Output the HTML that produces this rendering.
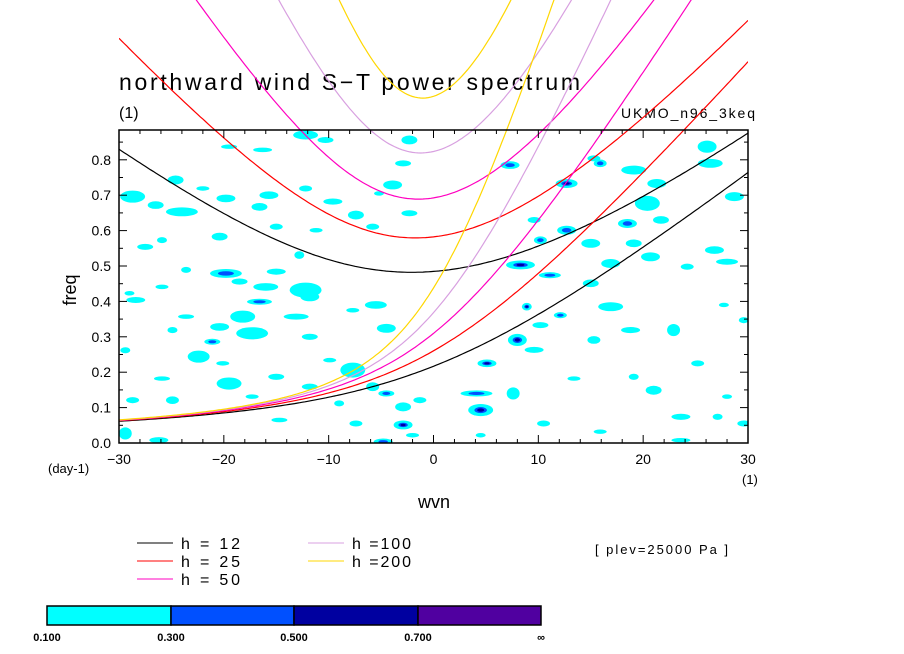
<!DOCTYPE html>
<html><head><meta charset="utf-8"><style>
body{margin:0;background:#fff;width:904px;height:654px;overflow:hidden}
svg{display:block;font-family:"Liberation Sans",sans-serif}
</style></head><body>
<svg id="chart" width="904" height="654" viewBox="0 0 904 654" xmlns="http://www.w3.org/2000/svg">
<defs><clipPath id="plotclip"><rect x="119" y="130" width="629" height="313"/></clipPath>
<clipPath id="xclip"><rect x="119" y="0" width="629" height="443"/></clipPath></defs>
<text x="119" y="90" font-size="23" textLength="461" lengthAdjust="spacing">northward wind S−T power spectrum</text>
<text x="119" y="118" font-size="16">(1)</text>
<text x="621" y="118" font-size="14" textLength="134" lengthAdjust="spacing">UKMO_n96_3keq</text>
<g id="blobs" clip-path="url(#plotclip)"></g>
<g id="curves" clip-path="url(#xclip)"></g>
<g id="axes"></g>
<text transform="translate(76,290) rotate(-90)" font-size="18" text-anchor="middle">freq</text>
<text x="434" y="508" font-size="18" text-anchor="middle">wvn</text>
<text x="48" y="473" font-size="13">(day-1)</text>
<text x="742" y="484" font-size="13">(1)</text>
<g id="legend"></g>
<text x="595" y="554" font-size="13" textLength="133" lengthAdjust="spacing">[ plev=25000 Pa ]</text>
<g id="cbar"></g>
</svg>
<script>
const hValues=[12,25,50,100,200];
const hColors=["#000000","#ff0000","#ff00c0","#d8a0e0","#ffd700"];
const xTicks=[-30,-20,-10,0,10,20,30];
const yTicks=[0,0.1,0.2,0.3,0.4,0.5,0.6,0.7,0.8];
const cbLevels=["0.100","0.300","0.500","0.700","∞"];
const cbColors=["#00ffff","#0050ff","#0000a0","#5000a0"];
// contour blobs: wavenumber, frequency, extent in k, in f, level
const blobK=[-28.7,-24.6,-24.0,-26.5,-12.2,-10.3,-16.3,-19.5,-15.7,-19.8,-12.2,-9.6,-7.4,-2.3,-2.9,-3.9,-5.2,-2.3,-22.0,-16.6,-20.4,-25.9,-27.5,-15.0,-11.2,-5.8,-12.8,-19.8,-15.0,-23.6,-18.5,-16.0,-12.2,-16.6,-11.8,-25.9,-28.4,-29.0,-23.6,-18.2,-13.1,-20.4,-17.3,-21.1,-24.9,-4.5,-5.5,-7.7,-11.8,-22.4,-29.4,-20.1,-9.9,-7.7,-25.9,-19.5,-15.0,-11.8,-24.9,-28.7,-17.3,-5.8,-4.5,-2.9,-9.0,-2.9,-2.0,-4.8,-29.4,-26.2,-14.7,-7.4,-1.3,
7.3,12.7,15.3,15.9,19.1,21.3,26.1,26.4,28.7,20.4,18.5,21.7,12.7,9.6,15.0,10.2,19.1,20.7,26.8,28.0,24.2,8.3,11.1,16.9,15.0,8.9,12.1,16.9,10.2,8.0,9.6,15.3,18.8,22.9,27.7,29.6,5.1,4.1,4.5,7.6,13.4,19.1,21.0,25.2,28.0,23.6,27.1,10.5,15.9,23.6,29.6,4.5];
const blobF=[.696,.743,.653,.672,.870,.856,.828,.837,.700,.691,.719,.682,.644,.856,.790,.729,.705,.649,.719,.667,.583,.573,.554,.611,.601,.611,.531,.479,.484,.489,.456,.441,.432,.399,.413,.441,.404,.423,.357,.357,.357,.328,.310,.286,.319,.324,.390,.375,.300,.244,.262,.225,.234,.206,.182,.168,.187,.159,.121,.121,.131,.159,.140,.102,.112,.051,.022,.004,.027,.008,.065,.055,.121,
.785,.733,.804,.790,.771,.733,.837,.790,.696,.677,.620,.630,.601,.630,.564,.573,.564,.526,.545,.512,.498,.503,.474,.507,.451,.385,.361,.385,.333,.291,.263,.291,.319,.319,.390,.347,.225,.140,.093,.140,.182,.187,.149,.225,.131,.074,.074,.055,.032,.008,.055,.022];
const blobDK=[2.5,1.6,3.2,1.6,2.5,1.6,1.9,1.6,1.9,1.9,1.3,1.9,1.6,1.6,1.6,1.9,1.0,1.6,1.3,1.6,1.6,1.0,1.6,1.3,1.3,1.3,1.0,3.2,1.9,1.0,1.6,2.5,3.2,2.5,1.9,1.3,1.9,1.0,1.6,2.5,2.5,1.9,3.2,1.6,1.0,1.9,2.2,1.3,1.6,2.2,1.0,1.3,1.3,2.5,1.6,2.5,1.6,1.6,1.3,1.3,1.3,1.3,1.6,1.6,1.0,1.9,1.3,1.9,1.3,1.9,1.6,1.3,1.3,
1.9,2.2,1.3,1.3,2.5,1.9,1.9,2.5,1.9,2.5,1.9,1.6,1.9,1.3,1.9,1.3,1.6,1.9,1.9,2.2,1.3,2.9,2.2,1.9,1.6,1.0,1.3,2.5,1.6,1.9,1.9,1.3,1.9,1.3,1.0,1.0,1.9,3.2,2.5,1.3,1.3,1.0,1.6,1.3,1.0,1.9,1.0,1.3,1.3,1.9,1.3,1.0];
const blobDF=[.038,.028,.028,.024,.028,.019,.014,.014,.024,.024,.019,.019,.028,.028,.019,.028,.014,.019,.014,.024,.024,.019,.019,.019,.014,.019,.024,.028,.019,.019,.019,.024,.047,.019,.028,.014,.019,.014,.014,.038,.019,.024,.038,.019,.019,.028,.024,.014,.019,.038,.019,.014,.014,.047,.014,.038,.019,.019,.024,.019,.014,.028,.019,.028,.019,.028,.014,.019,.038,.019,.014,.019,.019,
.024,.028,.019,.024,.028,.028,.038,.028,.028,.047,.028,.024,.028,.019,.028,.024,.024,.028,.024,.019,.019,.028,.019,.028,.024,.024,.019,.028,.019,.038,.019,.024,.019,.038,.014,.019,.024,.019,.038,.038,.014,.019,.028,.019,.014,.019,.019,.019,.014,.014,.019,.014];
const blobLevel=[1,1,1,1,1,1,1,1,1,1,1,1,1,1,1,1,1,1,1,1,1,1,1,1,1,1,1,2,1,1,1,1,1,2,1,1,1,1,1,1,1,1,1,2,1,1,1,1,1,1,1,1,1,1,1,1,1,1,1,1,1,1,2,1,1,3,1,2,1,1,1,1,1,
2,3,1,2,1,1,1,1,1,1,2,1,2,1,1,2,1,1,1,1,1,3,2,1,1,3,2,1,1,3,1,1,1,1,1,1,3,2,3,1,1,1,1,1,1,1,1,1,1,1,1,1];

const NS="http://www.w3.org/2000/svg";
const X0=119,X1=748,Y0=443,Y1=130;
const xS=k=>X0+(k+30)*(X1-X0)/60;
const yS=f=>Y0-f*354;
function mk(tag,attrs,parent){const e=document.createElementNS(NS,tag);for(const a in attrs)e.setAttribute(a,attrs[a]);parent.appendChild(e);return e;}

const bg=document.getElementById('blobs');
const lvCol=["#00ffff","#0050ff","#0000a0"];
for(let i=0;i<blobK.length;i++){
  const cx=xS(blobK[i]),cy=yS(blobF[i]);
  const rx=blobDK[i]*(X1-X0)/60/2*0.95,ry=blobDF[i]*354/2*0.9;
  for(let l=0;l<blobLevel[i];l++){
    const s=[1,0.5,0.28][l];
    const e=mk('ellipse',{cx:cx,cy:cy,rx:rx*s,ry:ry*s,fill:lvCol[l]},bg);
    
    
  }
}

const beta=2.29e-11,g=9.81,circ=4.003e7;
const cg=document.getElementById('curves');
function toCpd(w){return w*86400/(2*Math.PI);}
hValues.forEach((h,hi)=>{
  const c=Math.sqrt(g*h);
  let mrg=[],ig=[];
  for(let k=-30;k<=30.001;k+=0.25){
    const kr=k*2*Math.PI/circ;
    const wm=kr*c/2+Math.sqrt(kr*kr*c*c/4+beta*c);
    mrg.push([xS(k),yS(toCpd(wm))]);
    const A=kr*kr*c*c+5*beta*c,B=beta*c*c*kr;
    let w=Math.sqrt(A)*1.3;
    for(let it=0;it<40;it++){const f=w*w*w-A*w-B,d=3*w*w-A;w-=f/d;}
    ig.push([xS(k),yS(toCpd(w))]);
  }
  [mrg,ig].forEach((pts,j)=>{
    const p=mk('polyline',{points:pts.map(q=>q[0].toFixed(1)+','+q[1].toFixed(1)).join(' '),fill:'none',stroke:hColors[hi],'stroke-width':1.2},cg);
    
    
  });
});

const ax=document.getElementById('axes');
mk('rect',{x:X0,y:Y1,width:X1-X0,height:Y0-Y1,fill:'none',stroke:'#000','stroke-width':1.5},ax);
for(let k=-30;k<=30;k+=2){
  const x=xS(k),L=(k%10===0)?8:4;
  mk('line',{x1:x,y1:Y0,x2:x,y2:Y0-L,stroke:'#000'},ax);
  mk('line',{x1:x,y1:Y1,x2:x,y2:Y1+L,stroke:'#000'},ax);
}
for(let i=0;i<=17;i++){
  const f=i*0.05,y=yS(f),L=(i%2===0)?8:4;
  if(y<Y1)continue;
  mk('line',{x1:X0,y1:y,x2:X0+L,y2:y,stroke:'#000'},ax);
  mk('line',{x1:X1,y1:y,x2:X1-L,y2:y,stroke:'#000'},ax);
}
xTicks.forEach(k=>{const t=mk('text',{x:xS(k),y:464,'font-size':14,'text-anchor':'middle'},ax);t.textContent=k<0?'−'+(-k):String(k);
  
  });
yTicks.forEach(f=>{const t=mk('text',{x:111,y:yS(f)+5,'font-size':14,'text-anchor':'end'},ax);t.textContent=f.toFixed(1);
  
  });

const lg=document.getElementById('legend');
const legLabels=["h = 12","h = 25","h = 50","h =100","h =200"];
const legX=[137,137,137,308,308],legRow=[0,1,2,0,1];
hValues.forEach((h,i)=>{
  const y=543+legRow[i]*18;
  const g2=mk('g',{},lg);
  
  
  mk('line',{x1:legX[i],y1:y,x2:legX[i]+36,y2:y,stroke:hColors[i],'stroke-width':1},g2);
  const t=mk('text',{x:legX[i]+44,y:y+6,'font-size':16,textLength:59,lengthAdjust:'spacing'},g2);t.textContent=legLabels[i];
});

const cb=document.getElementById('cbar');
const cbX=[47,171,294,418,541];
cbColors.forEach((c,i)=>{const r=mk('rect',{x:cbX[i],y:606,width:cbX[i+1]-cbX[i],height:19,fill:c,stroke:'#000','stroke-width':1.5},cb);
  
  });
cbLevels.forEach((l,i)=>{const t=mk('text',{x:cbX[i],y:641,'font-size':11,'font-weight':'bold','text-anchor':'middle'},cb);t.textContent=l;
  
  });
</script>
</body></html>
